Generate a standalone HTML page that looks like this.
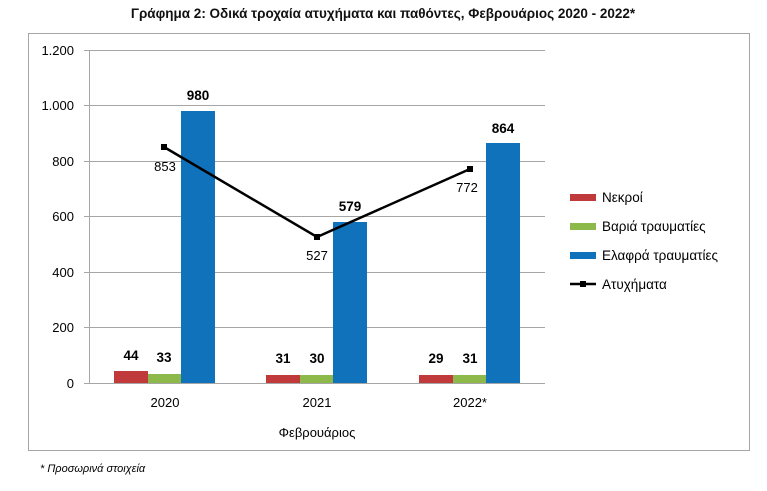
<!DOCTYPE html>
<html><head><meta charset="utf-8"><style>
body{margin:0;background:#fff;width:767px;height:486px;overflow:hidden}
svg text{font-family:"Liberation Sans","DejaVu Sans",sans-serif}
</style></head><body>
<svg width="767" height="486" xmlns="http://www.w3.org/2000/svg">
<text x="383" y="18" text-anchor="middle" font-size="13.5" font-weight="bold" fill="#111">Γράφημα 2: Οδικά τροχαία ατυχήματα και παθόντες, Φεβρουάριος 2020 - 2022*</text>
<rect x="28.5" y="33.5" width="721" height="417" fill="none" stroke="#a6a6a6"/>
<g stroke="#a6a6a6" stroke-width="1">
<line x1="84" y1="50.5" x2="545" y2="50.5"/>
<line x1="84" y1="105.5" x2="545" y2="105.5"/>
<line x1="84" y1="161.5" x2="545" y2="161.5"/>
<line x1="84" y1="216.5" x2="545" y2="216.5"/>
<line x1="84" y1="272.5" x2="545" y2="272.5"/>
<line x1="84" y1="327.5" x2="545" y2="327.5"/>
<line x1="84" y1="383.5" x2="545" y2="383.5"/>
<line x1="89.5" y1="50" x2="89.5" y2="383"/>
</g>
<g font-size="13" fill="#000" text-anchor="end">
<text x="74" y="55">1.200</text><text x="74" y="110">1.000</text><text x="74" y="166">800</text>
<text x="74" y="221">600</text><text x="74" y="277">400</text><text x="74" y="332">200</text><text x="74" y="388">0</text>
</g>
<g>
<rect x="114" y="371" width="34" height="12" fill="#c0393b"/><rect x="148" y="374" width="33" height="9" fill="#8db84a"/><rect x="181" y="111" width="34" height="272" fill="#1172bc"/>
<rect x="266" y="375" width="34" height="8" fill="#c0393b"/><rect x="300" y="375" width="33" height="8" fill="#8db84a"/><rect x="333" y="222" width="34" height="161" fill="#1172bc"/>
<rect x="419" y="375" width="34" height="8" fill="#c0393b"/><rect x="453" y="375" width="33" height="8" fill="#8db84a"/><rect x="486" y="143" width="34" height="240" fill="#1172bc"/>
</g>
<polyline points="164,147 317,237 470,169" fill="none" stroke="#000" stroke-width="2.5"/>
<rect x="161" y="144" width="6" height="6"/><rect x="314" y="234" width="6" height="6"/><rect x="467" y="166" width="6" height="6"/>
<g font-size="13.5" font-weight="bold" text-anchor="middle">
<text x="131" y="360">44</text><text x="164" y="362">33</text><text x="198" y="100">980</text>
<text x="283" y="363">31</text><text x="317" y="363">30</text><text x="350" y="211">579</text>
<text x="436" y="363">29</text><text x="470" y="363">31</text><text x="503" y="133">864</text>
</g>
<g font-size="13" text-anchor="middle">
<text x="165" y="171">853</text><text x="317" y="260">527</text><text x="467" y="192">772</text>
<text x="165" y="407">2020</text><text x="317" y="407">2021</text><text x="470" y="407">2022*</text>
<text x="317" y="437">Φεβρουάριος</text>
</g>
<g font-size="13.5">
<rect x="570" y="194" width="26" height="7" fill="#c0393b"/><text x="602" y="202">Νεκροί</text>
<rect x="570" y="223" width="26" height="7" fill="#8db84a"/><text x="602" y="231">Βαριά τραυματίες</text>
<rect x="570" y="252" width="26" height="7" fill="#1172bc"/><text x="602" y="260">Ελαφρά τραυματίες</text>
<line x1="570" y1="284" x2="596" y2="284" stroke="#000" stroke-width="2.5"/><rect x="580" y="281" width="6" height="6"/><text x="602" y="289">Ατυχήματα</text>
</g>
<text x="40" y="472" font-size="11" font-style="italic">* Προσωρινά στοιχεία</text>
</svg>
</body></html>
